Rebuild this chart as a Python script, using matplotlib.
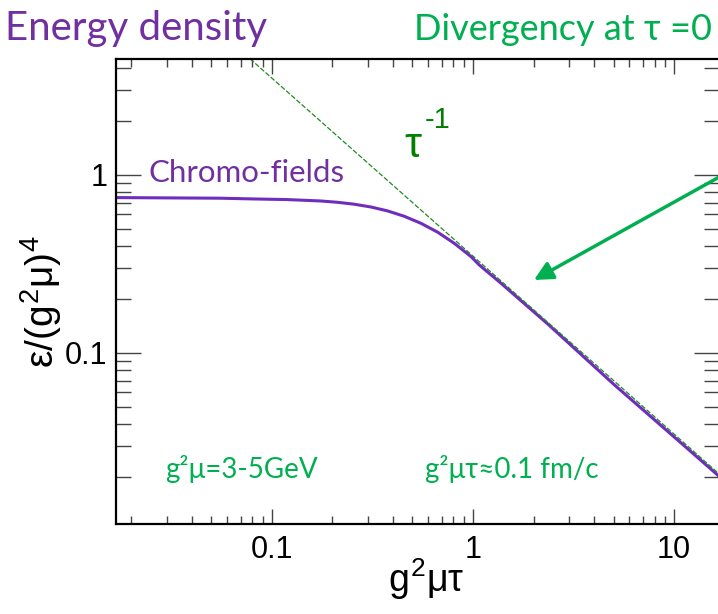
import matplotlib
matplotlib.use('Agg')
import matplotlib.pyplot as plt
from matplotlib.ticker import LogLocator, NullFormatter, FixedLocator, FixedFormatter

# energy density of the chromo-fields vs g^2 mu tau
tau = [0.0168, 0.0555, 0.0813, 0.119, 0.175, 0.212, 0.256, 0.310, 0.376, 0.455,
       0.551, 0.667, 0.807, 0.977, 1.075, 1.38, 2.36, 5.06, 10.9, 16.8]
eps = [0.746, 0.740, 0.733, 0.727, 0.714, 0.702, 0.685, 0.661, 0.628, 0.586,
       0.535, 0.477, 0.413, 0.348, 0.312, 0.246, 0.145, 0.066, 0.031, 0.0202]

# tau^-1 asymptote
tau_asym = [0.078, 16.8]
asym_norm = 0.35

x_ticks = [0.1, 1, 10]
x_ticklabels = ['0.1', '1', '10']
y_ticks = [0.1, 1]
y_ticklabels = ['0.1', '1']

purple_line = '#6f2dbd'
purple_text = '#7030a0'
green = '#00b050'
dark_green = '#008000'

plt.rcParams['mathtext.fontset'] = 'custom'
plt.rcParams['mathtext.rm'] = 'Liberation Sans'
plt.rcParams['mathtext.it'] = 'Liberation Sans'
plt.rcParams['font.family'] = ['Liberation Sans', 'DejaVu Sans']

W, H = 718, 614
fig = plt.figure(figsize=(W / 100, H / 100), dpi=100)
ax = fig.add_axes([116 / W, 1 - 524 / H, (W - 116) / W + 0.002, (524 - 59) / H])

ax.plot(tau, eps, color=purple_line, lw=2.2, solid_capstyle='butt')
ax.plot(tau_asym, [asym_norm / t for t in tau_asym], color='#228b22', lw=0.9,
        dashes=(4, 1.5))

ax.set_xscale('log')
ax.set_yscale('log')
ax.set_xlim(0.0168, 16.8)
ax.set_ylim(0.01094, 4.48)

ax.xaxis.set_major_locator(FixedLocator(x_ticks))
ax.xaxis.set_major_formatter(FixedFormatter(x_ticklabels))
ax.yaxis.set_major_locator(FixedLocator(y_ticks))
ax.yaxis.set_major_formatter(FixedFormatter(y_ticklabels))
ax.xaxis.set_minor_locator(LogLocator(base=10, subs=range(2, 10)))
ax.yaxis.set_minor_locator(LogLocator(base=10, subs=range(2, 10)))
ax.xaxis.set_minor_formatter(NullFormatter())
ax.yaxis.set_minor_formatter(NullFormatter())

ax.tick_params(which='both', direction='in', top=True, right=True,
               color='#444444', width=1, labelsize=22)
ax.tick_params(axis='x', which='major', length=11, pad=8)
ax.tick_params(axis='x', which='minor', length=6)
ax.tick_params(axis='y', which='major', length=18, pad=6)
ax.tick_params(axis='y', which='minor', length=11)

for side in ['left', 'bottom', 'top']:
    ax.spines[side].set_linewidth(1.6)
ax.spines['right'].set_visible(False)

ax.set_xlabel(r'$g^{2}\mu\tau$', fontsize=27)
ax.xaxis.set_label_coords((426 - 116) / 603, (524 - 556) / 465)
ax.set_ylabel(r'$\varepsilon/(g^{2}\mu)^{4}$', fontsize=28)
ax.yaxis.set_label_coords((64 - 116) / 603, (524 - 302) / 465)

# arrow pointing at the divergence
ax.annotate('', xy=(2.01, 0.257), xytext=(17.5, 1.0),
            arrowprops=dict(arrowstyle='-|>', color=green, lw=2.5,
                            mutation_scale=28, shrinkA=0, shrinkB=0),
            annotation_clip=False)

soft = ['Lato', 'Open Sans', 'DejaVu Sans']
fig.text(5 / W, 1 - 40 / H, 'Energy density', color=purple_text, fontsize=29,
         family=soft)
fig.text(712 / W, 1 - 40 / H, 'Divergency at τ =0', color=green, fontsize=26,
         family=soft, ha='right')
fig.text(148 / W, 1 - 182 / H, 'Chromo-fields', color=purple_text, fontsize=22.5,
         family=soft)
fig.text(165 / W, 1 - 478 / H, 'g²μ=3-5GeV', color=green, fontsize=20,
         family=soft)
fig.text(425 / W, 1 - 478 / H, 'g²μτ≈0.1 fm/c', color=green, fontsize=20,
         family=soft)
fig.text(404 / W, 1 - 157 / H, 'τ', color=dark_green, fontsize=31)
fig.text(425 / W, 1 - 128 / H, '-1', color=dark_green, fontsize=21)

fig.savefig('out.png', dpi=100)
